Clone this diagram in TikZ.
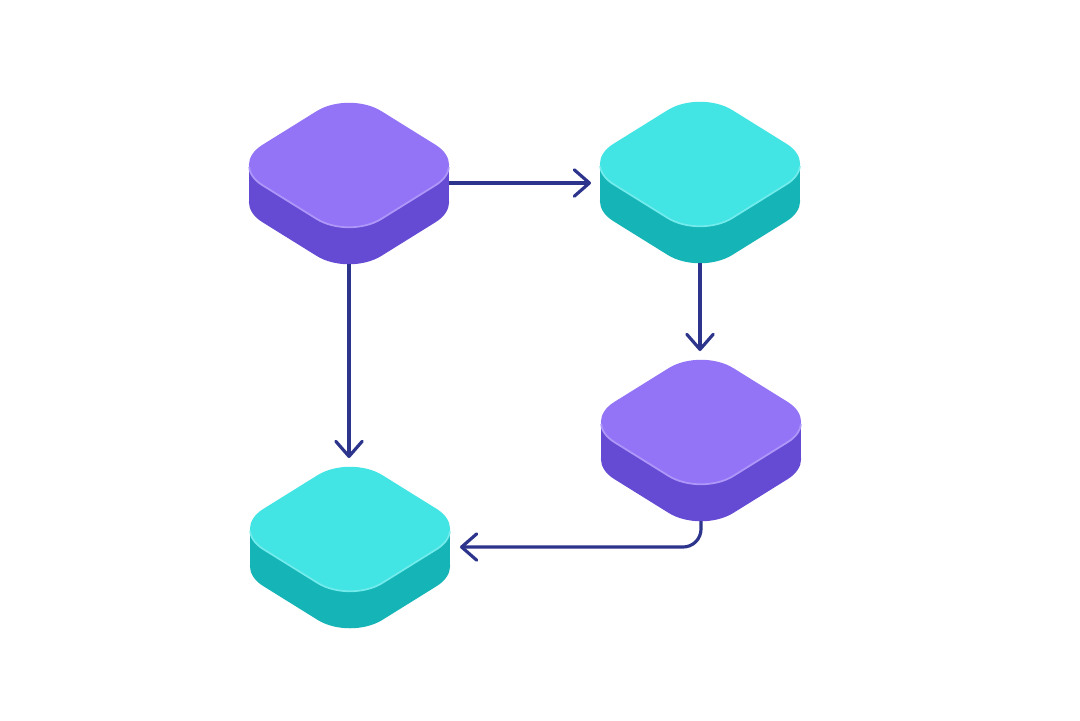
\documentclass[tikz,border=0pt]{standalone}
\usetikzlibrary{arrows.meta}

\definecolor{violetTop}{RGB}{147,116,246}
\definecolor{violetSide}{RGB}{101,74,211}
\definecolor{aquaTop}{RGB}{66,228,228}
\definecolor{aquaSide}{RGB}{20,180,183}
\definecolor{navyLine}{RGB}{44,52,140}

% \tile{name}{cx}{cy}{top colour}{side colour}
\newcommand{\tile}[5]{%
  \fill[#5, rounded corners=0.38cm] (#2,#3-74+37) -- (#2+119,#3+37) -- (#2,#3+74+37) -- (#2-119,#3+37) -- cycle; % bottom copy
  \fill[#5] (#2-100,#3) rectangle (#2+100,#3+37); % side band
  \fill[#4, rounded corners=0.38cm] (#2,#3-74) -- (#2+119,#3) -- (#2,#3+74) -- (#2-119,#3) -- cycle; % top face
  \begin{scope}
    \clip (#2-130,#3+2) rectangle (#2+130,#3+90);
    \draw[#4!75!white, line width=0.5pt, rounded corners=0.38cm] (#2,#3-74) -- (#2+119,#3) -- (#2,#3+74) -- (#2-119,#3) -- cycle; % front rim
  \end{scope}
  \coordinate (#1-n) at (#2,#3-62);
  \coordinate (#1-s) at (#2,#3+62+37);
  \coordinate (#1-e) at (#2+100,#3+18);
  \coordinate (#1-w) at (#2-100,#3+18);
}

\begin{document}
\begin{tikzpicture}[x=0.01cm,y=-0.01cm,
    flow/.style={draw=navyLine, line width=0.9pt, -{Straight Barb[length=4.3pt,width=7.5pt,round]}}]
  \fill[white] (0,0) rectangle (1080,720); % canvas

  \tile{tA}{349}{165}{violetTop}{violetSide}
  \tile{tB}{700}{164}{aquaTop}{aquaSide}
  \tile{tC}{701}{422}{violetTop}{violetSide}
  \tile{tD}{350}{529}{aquaTop}{aquaSide}

  \draw[flow, shorten >=0.09cm] (tA-e) -- (tA-e -| tB-w); % top row
  \draw[flow, shorten >=0.09cm] (tA-s) -- (tA-s |- tD-n); % left column
  \draw[flow, shorten >=0.09cm] (tB-s) -- (tB-s |- tC-n); % right column
  \draw[flow, shorten >=0.1cm, rounded corners=0.18cm] (tC-s) |- (tD-e); % back to the left
\end{tikzpicture}
\end{document}
